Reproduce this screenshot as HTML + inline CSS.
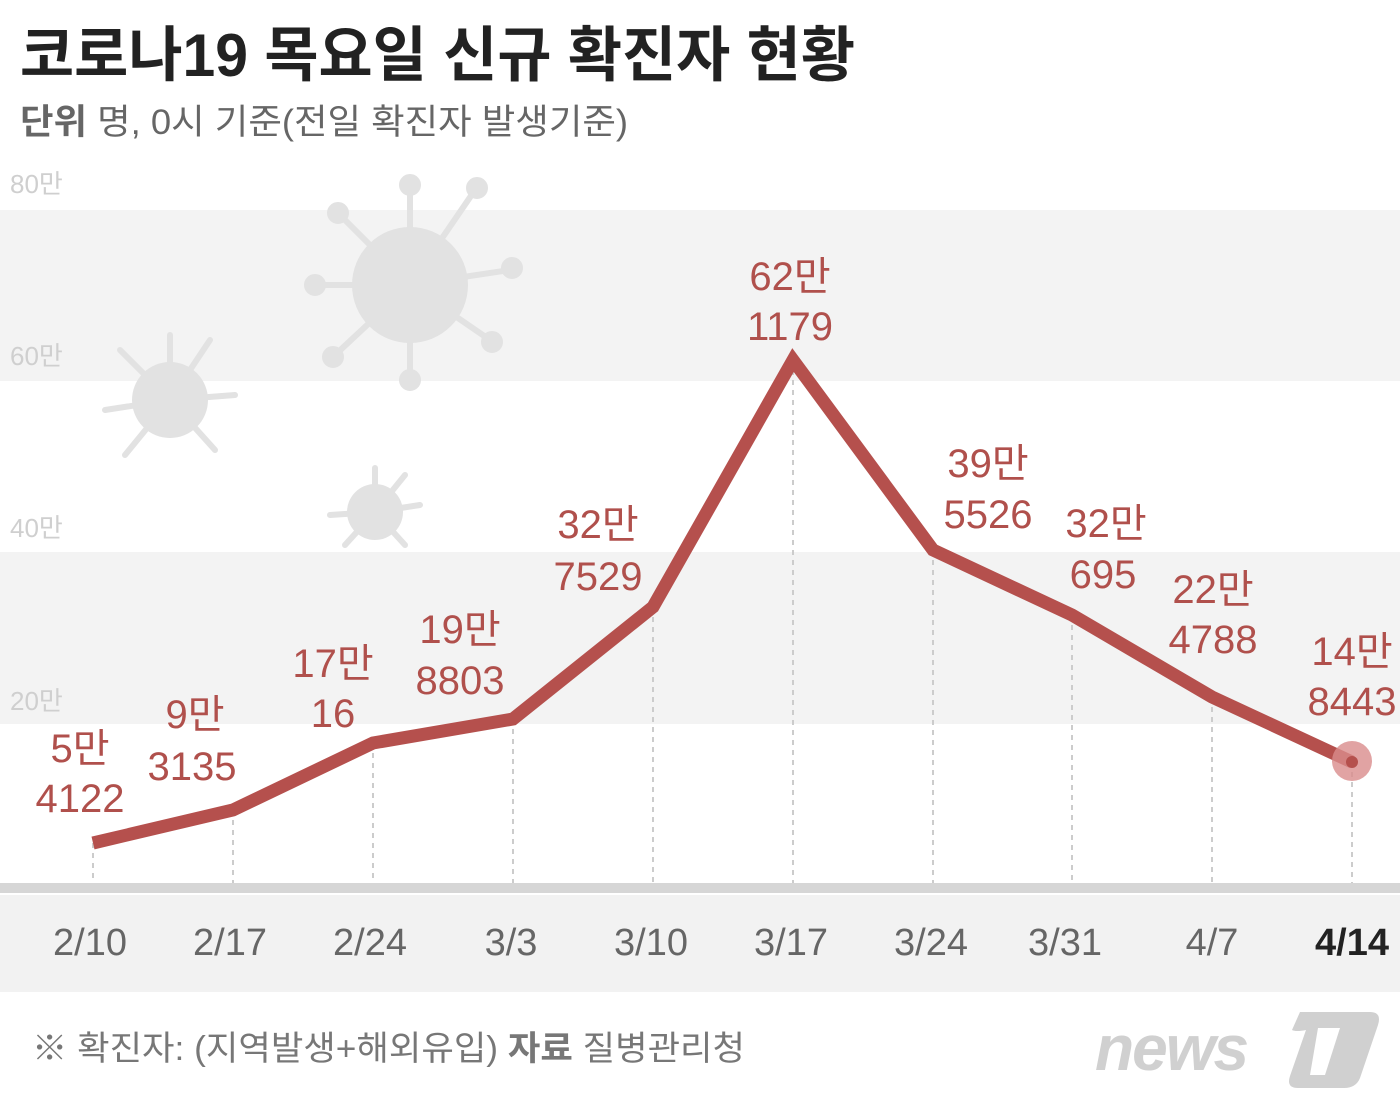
<!DOCTYPE html>
<html><head><meta charset="utf-8"><style>
html,body{margin:0;padding:0;background:#fff}
svg{display:block}
text{font-family:"Liberation Sans","Noto Sans CJK KR",sans-serif}
</style></head><body>
<svg width="1400" height="1110" viewBox="0 0 1400 1110" xmlns="http://www.w3.org/2000/svg">
<rect width="1400" height="1110" fill="#fff"/>
<rect x="0" y="210" width="1400" height="171" fill="#f3f3f3"/>
<rect x="0" y="552" width="1400" height="172" fill="#f3f3f3"/>
<rect x="0" y="895" width="1400" height="97" fill="#f2f2f2"/>
<rect x="0" y="883" width="1400" height="10" fill="#d6d6d6"/>
<g fill="#e2e2e2" stroke="#e2e2e2" stroke-width="6" stroke-linecap="round">
<circle cx="410" cy="285" r="58" stroke="none"/>
<line x1="410" y1="285" x2="410" y2="185"/><line x1="410" y1="285" x2="410" y2="380"/>
<line x1="410" y1="285" x2="315" y2="285"/><line x1="410" y1="285" x2="510" y2="270"/>
<line x1="410" y1="285" x2="340" y2="215"/><line x1="410" y1="285" x2="475" y2="190"/>
<line x1="410" y1="285" x2="335" y2="355"/><line x1="410" y1="285" x2="490" y2="340"/>
<circle cx="410" cy="185" r="8"/><circle cx="410" cy="380" r="8"/><circle cx="315" cy="285" r="8"/><circle cx="512" cy="268" r="8"/><circle cx="338" cy="213" r="8"/><circle cx="477" cy="188" r="8"/><circle cx="333" cy="357" r="8"/><circle cx="492" cy="342" r="8"/>
<circle cx="170" cy="400" r="38" stroke="none"/>
<line x1="170" y1="400" x2="170" y2="335"/><line x1="170" y1="400" x2="105" y2="410"/><line x1="170" y1="400" x2="235" y2="395"/><line x1="170" y1="400" x2="125" y2="455"/><line x1="170" y1="400" x2="210" y2="340"/><line x1="170" y1="400" x2="215" y2="450"/><line x1="170" y1="400" x2="120" y2="350"/>
<circle cx="375" cy="512" r="28" stroke="none"/>
<line x1="375" y1="512" x2="375" y2="468"/><line x1="375" y1="512" x2="330" y2="515"/><line x1="375" y1="512" x2="420" y2="505"/><line x1="375" y1="512" x2="345" y2="545"/><line x1="375" y1="512" x2="405" y2="545"/><line x1="375" y1="512" x2="405" y2="475"/>
</g>
<text x="20" y="76" font-size="60" font-weight="bold" fill="#222" textLength="835" lengthAdjust="spacingAndGlyphs">코로나19 목요일 신규 확진자 현황</text>
<text x="20" y="134" font-size="35" fill="#666" textLength="608" lengthAdjust="spacingAndGlyphs"><tspan font-weight="bold">단위</tspan>  명, 0시 기준(전일 확진자 발생기준)</text>
<g font-size="26" fill="#cfcfcf">
<text x="10" y="193">80만</text><text x="10" y="365">60만</text><text x="10" y="537">40만</text><text x="10" y="710">20만</text>
</g>
<g stroke="#cccccc" stroke-width="2" stroke-dasharray="5,5">
<line x1="93" y1="843" x2="93" y2="883"/><line x1="233" y1="810" x2="233" y2="883"/><line x1="373" y1="743" x2="373" y2="883"/><line x1="513" y1="719" x2="513" y2="883"/><line x1="653" y1="607" x2="653" y2="883"/><line x1="793" y1="360" x2="793" y2="883"/><line x1="933" y1="550" x2="933" y2="883"/><line x1="1072" y1="615" x2="1072" y2="883"/><line x1="1212" y1="697" x2="1212" y2="883"/><line x1="1352" y1="762" x2="1352" y2="883"/>
</g>
<polyline points="93,843 233,810 373,743 513,719 653,607 793,360 933,550 1072,615 1212,697 1352,762" fill="none" stroke="#b5504d" stroke-width="13" stroke-linejoin="miter"/>
<circle cx="1352" cy="761" r="20" fill="#d98c8c" opacity="0.8"/>
<circle cx="1352" cy="762" r="6" fill="#b5504d"/>
<g font-size="40" fill="#b0504c" text-anchor="middle">
<text x="80" y="762">5만</text><text x="80" y="812">4122</text>
<text x="195" y="728">9만</text><text x="192" y="780">3135</text>
<text x="333" y="677">17만</text><text x="333" y="727">16</text>
<text x="460" y="643">19만</text><text x="460" y="694">8803</text>
<text x="598" y="538">32만</text><text x="598" y="590">7529</text>
<text x="790" y="290">62만</text><text x="790" y="340">1179</text>
<text x="988" y="477">39만</text><text x="988" y="528">5526</text>
<text x="1106" y="537">32만</text><text x="1103" y="588">695</text>
<text x="1213" y="603">22만</text><text x="1213" y="653">4788</text>
<text x="1352" y="665">14만</text><text x="1352" y="715">8443</text>
</g>
<g font-size="38" fill="#666" text-anchor="middle">
<text x="90" y="955">2/10</text><text x="230" y="955">2/17</text><text x="370" y="955">2/24</text><text x="511" y="955">3/3</text><text x="651" y="955">3/10</text><text x="791" y="955">3/17</text><text x="931" y="955">3/24</text><text x="1065" y="955">3/31</text><text x="1212" y="955">4/7</text>
<text x="1352" y="955" fill="#222" font-weight="bold">4/14</text>
</g>
<text x="32" y="1060" font-size="34" fill="#777" textLength="713" lengthAdjust="spacingAndGlyphs">※ 확진자: (지역발생+해외유입)  <tspan font-weight="bold">자료</tspan>  질병관리청</text>
<text x="1095" y="1070" font-size="64" font-weight="bold" font-style="italic" fill="#d0d0d0" letter-spacing="-2">news</text>
<path d="M1300 1012 L1370 1012 Q1382 1012 1378 1025 L1360 1078 Q1356 1088 1344 1088 L1298 1088 Q1286 1088 1290 1076 L1306 1030 Q1296 1032 1292 1030 Z" fill="#d0d0d0"/>
<path d="M1318 1028 L1340 1028 L1325 1075 L1310 1075 Z" fill="#fff"/>
</svg>
</body></html>
